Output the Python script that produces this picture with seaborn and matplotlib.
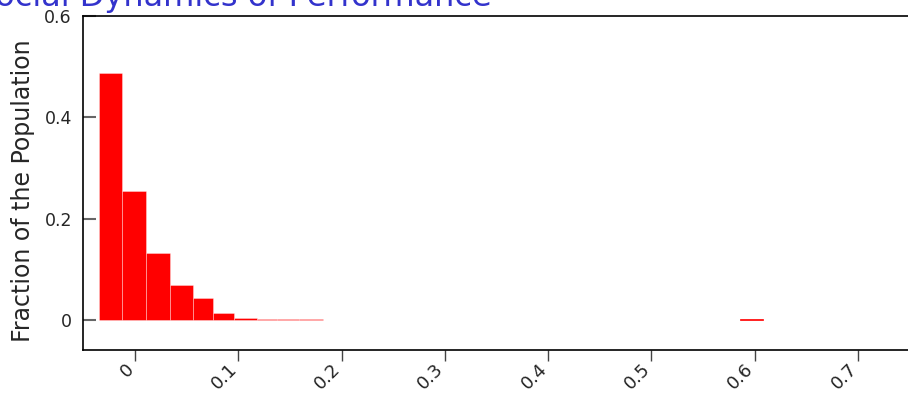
import numpy as np
import matplotlib
matplotlib.use("Agg")
import matplotlib.pyplot as plt
import matplotlib.transforms as mtransforms
import seaborn as sns

# Histogram bin edges (performance) and the share of the population in each bin
bin_edges = [-0.0349, -0.0121, 0.0111, 0.0339, 0.0559, 0.0755,
             0.0963, 0.1178, 0.1375, 0.1588, 0.1820]
fractions = [0.487, 0.254, 0.133, 0.069, 0.044, 0.014,
             0.005, 0.002, 0.0015, 0.0015]

# Isolated outlier bin far to the right
outlier_edges = [0.586, 0.608]
outlier_fraction = [0.002]

x_ticks = [0, 0.1, 0.2, 0.3, 0.4, 0.5, 0.6, 0.7]
x_tick_labels = ["0", "0.1", "0.2", "0.3", "0.4", "0.5", "0.6", "0.7"]
y_ticks = [0, 0.2, 0.4, 0.6]
y_tick_labels = ["0", "0.2", "0.4", "0.6"]

sns.set_style("white")
plt.rcParams["font.family"] = ["DejaVu Sans"]

fig = plt.figure(figsize=(9.08, 3.96), dpi=100)
ax = fig.add_axes([83 / 908, 46 / 396, 1 - 83 / 908, 334 / 396])

centres = 0.5 * (np.array(bin_edges[:-1]) + np.array(bin_edges[1:]))
sns.histplot(x=centres, weights=fractions, bins=bin_edges, color="#ff0000",
             alpha=1, edgecolor=(1, 1, 1, 0.6), linewidth=0.4, ax=ax)

out_centre = 0.5 * (np.array(outlier_edges[:-1]) + np.array(outlier_edges[1:]))
sns.histplot(x=out_centre, weights=outlier_fraction, bins=outlier_edges,
             color="#ff0000", alpha=1, edgecolor="#ff0000", linewidth=0.5, ax=ax)

ax.set_xlim(-0.0503, 0.7483)
ax.set_ylim(-0.059, 0.6)

ax.set_xticks(x_ticks)
ax.set_xticklabels(x_tick_labels, rotation=45, ha="right", va="center",
                   rotation_mode="anchor", fontsize=13)
ax.set_yticks(y_ticks)
ax.set_yticklabels(y_tick_labels, fontsize=12.5)

ax.tick_params(axis="x", direction="out", length=8, width=1, color="#444444",
               pad=4, bottom=True)
ax.tick_params(axis="y", direction="in", length=9, width=1.5, color="#666666",
               pad=8, left=True)

# nudge the rotated tick labels slightly left so they end just under each tick
shift = mtransforms.ScaledTranslation(-4 / 100, 0, fig.dpi_scale_trans)
for lbl in ax.get_xticklabels():
    lbl.set_transform(lbl.get_transform() + shift)

for side in ["left", "bottom", "top"]:
    ax.spines[side].set_visible(True)
    ax.spines[side].set_color("black")
    ax.spines[side].set_linewidth(1.2)
ax.spines["right"].set_visible(False)

ax.set_xlabel("")
ax.set_ylabel("Fraction of the Population", fontsize=17)
ax.yaxis.set_label_coords(-0.058, 0.476)

fig.text(-0.027, 0.986, "Social Dynamics of Performance", color="#3333cc",
         fontsize=23, ha="left", va="baseline")

fig.savefig("out.png", dpi=100)
